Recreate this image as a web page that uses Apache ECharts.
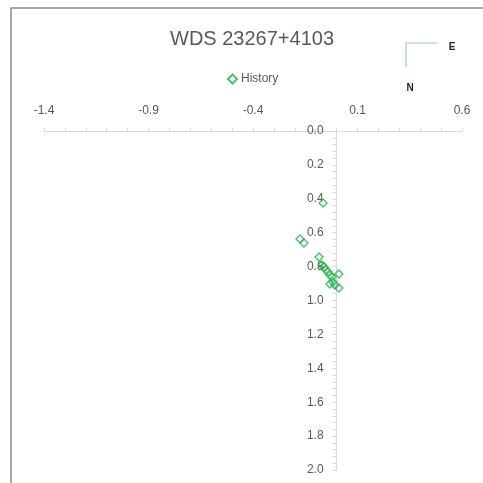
<!DOCTYPE html>
<html>
<head>
<meta charset="utf-8">
<script src="https://cdn.jsdelivr.net/npm/echarts@6/dist/echarts.min.js"></script>
<style>
  html, body { margin: 0; padding: 0; background: #fff; }
  #chart { width: 483px; height: 483px; }
</style>
</head>
<body>
<div id="chart"></div>
<script>
// Relative positions of the companion (East offset, North offset)
const eastOffsets  = [-0.065, -0.175, -0.156, -0.084, -0.070, -0.060, -0.051, -0.041, -0.032, -0.022, 0.011, -0.017, -0.032, -0.008, 0.011];
const northOffsets = [0.425, 0.637, 0.661, 0.743, 0.791, 0.802, 0.820, 0.832, 0.850, 0.861, 0.844, 0.891, 0.903, 0.909, 0.926];

// Labelled ticks on the top axis
const xTickLabels = [-1.4, -0.9, -0.4, 0.1, 0.6];
const xMin = -1.4, xMax = 0.6;
const yMin = 0, yMax = 2;

const points = eastOffsets.map((x, i) => [x, northOffsets[i]]);

const gridLeft = 44, gridRight = 21, chartWidth = 483;
// shift the vertical axis so it sits on x = 0
const plotWidth = chartWidth - gridLeft - gridRight;
const yAxisShift = -plotWidth * (0 - xMin) / (xMax - xMin);

const axisGrey = '#d9d9d9';
const textGrey = '#595959';
const font = 'Liberation Sans, Arial, sans-serif';

const chart = echarts.init(document.getElementById('chart'), null, { renderer: 'canvas' });

chart.setOption({
  animation: false,
  backgroundColor: '#ffffff',
  title: {
    text: 'WDS 23267+4103',
    left: 247,
    top: 24,
    textAlign: 'center',
    textStyle: { color: textGrey, fontSize: 20, fontWeight: 'normal', fontFamily: font }
  },
  legend: {
    data: ['History'],
    left: 222,
    top: 68,
    itemWidth: 9,
    itemHeight: 9,
    itemGap: 4,
    textStyle: { color: textGrey, fontSize: 12, fontFamily: font, padding: [0, 0, 0, -1] }
  },
  grid: { left: gridLeft, right: gridRight, top: 131, bottom: 13, containLabel: false },
  xAxis: {
    type: 'value',
    position: 'top',
    min: xMin,
    max: xMax,
    interval: 0.1,
    axisLine: { show: true, onZero: false, lineStyle: { color: axisGrey, width: 1 } },
    axisTick: { show: true, length: 3, lineStyle: { color: axisGrey } },
    splitLine: { show: false },
    axisLabel: {
      color: textGrey,
      fontSize: 12,
      fontFamily: font,
      margin: 14,
      formatter: function (v) {
        const hit = xTickLabels.some(t => Math.abs(t - v) < 1e-6);
        return hit ? v.toFixed(1) : '';
      }
    }
  },
  yAxis: {
    type: 'value',
    position: 'left',
    offset: yAxisShift,
    inverse: true,
    min: yMin,
    max: yMax,
    interval: 0.2,
    axisLine: { show: true, onZero: false, lineStyle: { color: axisGrey, width: 1 } },
    axisTick: { show: true, length: 4, lineStyle: { color: axisGrey } },
    minorTick: { show: true, splitNumber: 5, length: 4, lineStyle: { color: axisGrey } },
    splitLine: { show: false },
    axisLabel: {
      color: textGrey,
      fontSize: 12,
      fontFamily: font,
      margin: 13,
      formatter: v => v.toFixed(1)
    }
  },
  series: [{
    name: 'History',
    type: 'scatter',
    symbol: 'diamond',
    symbolSize: 8,
    data: points,
    itemStyle: { color: 'rgba(0,0,0,0)', borderColor: '#22b14c', borderWidth: 1.4 },
    emphasis: { disabled: true }
  }],
  graphic: [
    // chart frame
    {
      type: 'rect',
      shape: { x: 11, y: 8, width: 500, height: 500 },
      style: { fill: 'none', stroke: '#8c8c8c', lineWidth: 1.5 },
      silent: true
    },
    // orientation marker
    {
      type: 'polyline',
      shape: { points: [[437, 43], [406, 43], [406, 67]] },
      style: { fill: 'none', stroke: '#9dc3e6', lineWidth: 1.2 },
      silent: true
    },
    {
      type: 'text',
      style: { text: 'E', x: 452, y: 47, align: 'center', verticalAlign: 'middle',
               fill: '#262626', font: 'bold 10px ' + font },
      silent: true
    },
    {
      type: 'text',
      style: { text: 'N', x: 410, y: 88, align: 'center', verticalAlign: 'middle',
               fill: '#262626', font: 'bold 10px ' + font },
      silent: true
    }
  ]
});
</script>
</body>
</html>
